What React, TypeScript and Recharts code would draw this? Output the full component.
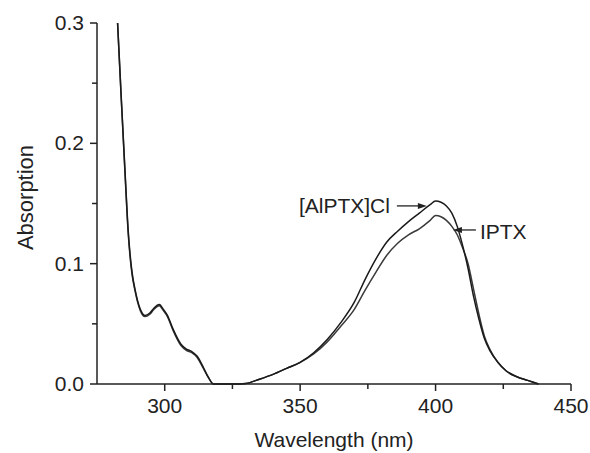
import React from "react";
import { LineChart, Line, XAxis, YAxis, ReferenceDot } from "recharts";

// wavelength (nm)
const wavelengths = [
  282.6, 284, 285.5, 286.5, 287.2, 288, 289, 290, 291, 292.7, 294.5, 296, 298,
  299.5, 301, 303, 306, 308, 310, 312, 314, 316, 318, 320, 325, 330, 335, 340,
  345, 350, 355, 360, 365, 370, 374, 378, 382, 386, 390, 394, 398, 400, 402,
  404, 406, 408, 410, 412, 414, 416, 418, 420, 423, 426, 430, 434, 438,
];

// absorption, [AlPTX]Cl
const alptxCl = [
  0.3, 0.236, 0.17, 0.128, 0.108, 0.092, 0.079, 0.069, 0.062, 0.057, 0.059,
  0.063, 0.066, 0.062, 0.057, 0.046, 0.033, 0.029, 0.027, 0.023, 0.015, 0.006,
  0, 0, 0, 0.0005, 0.004, 0.008, 0.013, 0.018, 0.026, 0.037, 0.051, 0.068,
  0.087, 0.104, 0.118, 0.127, 0.135, 0.142, 0.149, 0.152, 0.151, 0.148, 0.142,
  0.131, 0.115, 0.096, 0.073, 0.054, 0.038, 0.028, 0.018, 0.011, 0.006, 0.003,
  0,
];

// absorption, IPTX
const iptx = [
  0.3, 0.235, 0.168, 0.126, 0.106, 0.09, 0.078, 0.068, 0.061, 0.056, 0.058,
  0.062, 0.065, 0.061, 0.056, 0.045, 0.032, 0.028, 0.026, 0.022, 0.014, 0.006,
  0, 0, 0, 0.0005, 0.004, 0.008, 0.013, 0.018, 0.025, 0.035, 0.048, 0.062,
  0.078, 0.093, 0.107, 0.117, 0.124, 0.129, 0.136, 0.14, 0.139, 0.136, 0.131,
  0.124, 0.113, 0.1, 0.079, 0.058, 0.04, 0.029, 0.018, 0.011, 0.006, 0.003, 0,
];

const xTicks = [300, 325, 350, 375, 400, 425, 450];
const yTicks = [0, 0.05, 0.1, 0.15, 0.2, 0.25, 0.3];

const data = wavelengths.map((w, i) => ({
  w,
  alptx: alptxCl[i],
  iptx: iptx[i],
}));

const FONT = "'Liberation Sans', Arial, sans-serif";
const INK = "#222";

const XTick = (props: any) => {
  const { x, y, payload } = props;
  const major = payload.value % 50 === 0;
  return (
    <g>
      <line x1={x} x2={x} y1={y} y2={y + (major ? 7 : 5)} stroke={INK} strokeWidth={1.5} />
      {major && (
        <text x={x} y={y + 29} textAnchor="middle" fontSize={21} fontFamily={FONT} fill={INK}>
          {payload.value}
        </text>
      )}
    </g>
  );
};

const YTick = (props: any) => {
  const { x, y, payload } = props;
  const major = Math.round(payload.value * 100) % 10 === 0;
  return (
    <g>
      <line x1={x - (major ? 7 : 5)} x2={x} y1={y} y2={y} stroke={INK} strokeWidth={1.5} />
      {major && (
        <text x={x - 13} y={y + 7} textAnchor="end" fontSize={21} fontFamily={FONT} fill={INK}>
          {payload.value.toFixed(1)}
        </text>
      )}
    </g>
  );
};

const YLabel = (props: any) => {
  const vb = props.viewBox;
  const cx = 25;
  const cy = vb.y + vb.height / 2 - 6;
  return (
    <text
      x={cx}
      y={cy}
      transform={`rotate(-90 ${cx} ${cy})`}
      textAnchor="middle"
      dominantBaseline="central"
      fontSize={22}
      fontFamily={FONT}
      fill={INK}
    >
      Absorption
    </text>
  );
};

const XLabel = (props: any) => {
  const vb = props.viewBox;
  return (
    <text
      x={vb.x + vb.width / 2}
      y={447}
      textAnchor="middle"
      fontSize={21}
      fontFamily={FONT}
      fill={INK}
    >
      Wavelength (nm)
    </text>
  );
};

// arrow pointing right at the curve, label on the left
const AlLabel = (props: any) => {
  const { cx, cy } = props;
  return (
    <g>
      <line x1={cx - 30} x2={cx - 7} y1={cy} y2={cy} stroke={INK} strokeWidth={1.3} />
      <path d={`M${cx},${cy} L${cx - 9},${cy - 3} L${cx - 9},${cy + 3} Z`} fill={INK} />
      <text x={cx - 37} y={cy + 7} textAnchor="end" fontSize={21} fontFamily={FONT} fill={INK}>
        [AlPTX]Cl
      </text>
    </g>
  );
};

// arrow pointing left at the curve, label on the right
const IptxLabel = (props: any) => {
  const { cx, cy } = props;
  return (
    <g>
      <line x1={cx + 7} x2={cx + 23} y1={cy} y2={cy} stroke={INK} strokeWidth={1.3} />
      <path d={`M${cx},${cy} L${cx + 9},${cy - 3} L${cx + 9},${cy + 3} Z`} fill={INK} />
      <text x={cx + 27} y={cy + 9} textAnchor="start" fontSize={21} fontFamily={FONT} fill={INK}>
        IPTX
      </text>
    </g>
  );
};

export default function App() {
  return (
    <div style={{ position: "absolute", left: 0, top: 0, background: "#fff" }}>
      <LineChart
        width={590}
        height={453}
        data={data}
        margin={{ top: 23, right: 19, left: 0, bottom: 0 }}
      >
        <XAxis
          dataKey="w"
          type="number"
          domain={[275, 450]}
          ticks={xTicks}
          height={69}
          stroke={INK}
          strokeWidth={1.5}
          tickLine={false}
          tickSize={0}
          tickMargin={0}
          tick={<XTick />}
          interval={0}
          label={<XLabel />}
        />
        <YAxis
          type="number"
          domain={[0, 0.3]}
          ticks={yTicks}
          width={97}
          stroke={INK}
          strokeWidth={1.5}
          tickLine={false}
          tickSize={0}
          tickMargin={0}
          tick={<YTick />}
          interval={0}
          label={<YLabel />}
        />
        <Line
          type="monotone"
          dataKey="iptx"
          stroke="#3a3a3a"
          strokeWidth={1.5}
          dot={false}
          isAnimationActive={false}
        />
        <Line
          type="monotone"
          dataKey="alptx"
          stroke="#1a1a1a"
          strokeWidth={1.5}
          dot={false}
          isAnimationActive={false}
        />
        <ReferenceDot x={396.8} y={0.148} r={0} shape={<AlLabel />} />
        <ReferenceDot x={406.4} y={0.128} r={0} shape={<IptxLabel />} />
      </LineChart>
    </div>
  );
}
